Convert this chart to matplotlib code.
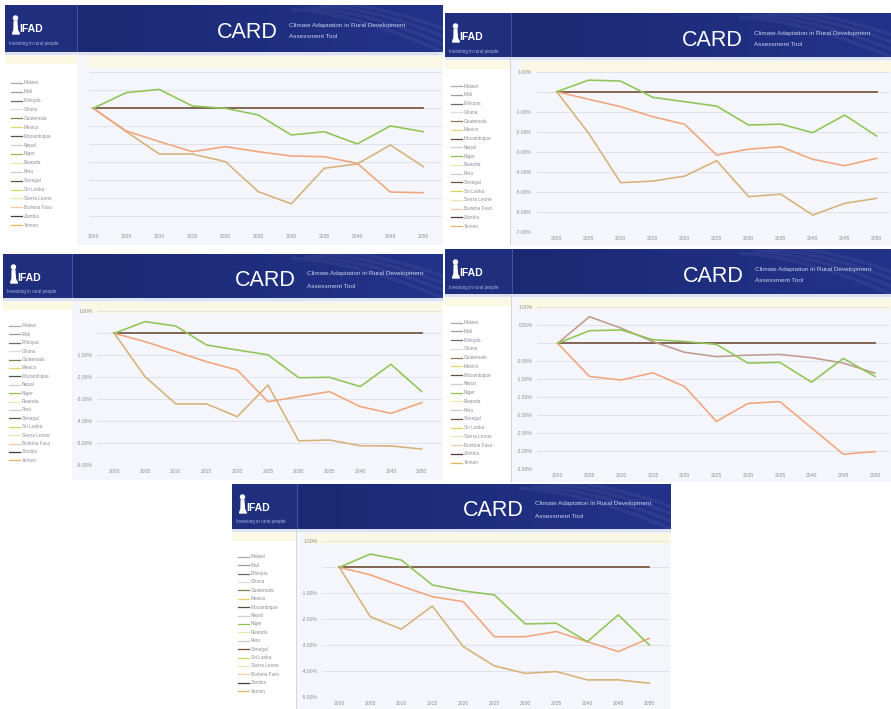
import matplotlib
matplotlib.use("Agg")
import matplotlib.pyplot as plt
from matplotlib.ticker import MultipleLocator, FuncFormatter
from matplotlib.patches import Rectangle, Circle, Polygon
import numpy as np

plt.rcParams['font.family'] = ['Liberation Sans', 'DejaVu Sans']

W, H = 891, 709

# ---------------------------------------------------------------- data
years = ['2000', '2005', '2010', '2015', '2020', '2025',
         '2030', '2035', '2040', '2045', '2050']

countries = ['Malawi', 'Mali', 'Ethiopia', 'Ghana', 'Guatemala', 'Mexico',
             'Mozambique', 'Nepal', 'Niger', 'Rwanda', 'Peru', 'Senegal',
             'Sri Lanka', 'Sierra Leone', 'Burkina Faso', 'Zambia', 'Yemen']
country_colors = ['#a9a9a9', '#9b9b9b', '#6f6a64', '#dcdcdc', '#8d7a4e',
                  '#e6d36a', '#5e4b3a', '#cfcfcf', '#8cc152', '#ece7a8',
                  '#c9c9d6', '#6b4f3a', '#d9d35a', '#efe3b0', '#f2c9a8',
                  '#4d3b30', '#e3b35c']

baseline = [0, 0, 0, 0, 0, 0, 0, 0, 0, 0, 0]

p1_green = [0, 0.87, 1.05, 0.13, 0, -0.37, -1.48, -1.30, -1.98, -0.98, -1.30]
p1_orange = [0, -1.26, -1.85, -2.41, -2.13, -2.41, -2.65, -2.69, -3.06, -4.65, -4.69]
p1_tan = [0, -1.30, -2.54, -2.54, -2.96, -4.63, -5.31, -3.33, -3.09, -2.04, -3.24]

p2_green = [0, 0.58, 0.53, -0.28, -0.50, -0.72, -1.67, -1.62, -2.05, -1.17, -2.22]
p2_orange = [0, -0.38, -0.75, -1.25, -1.63, -3.17, -2.87, -2.75, -3.38, -3.70, -3.33]
p2_tan = [0, -2.08, -4.55, -4.47, -4.22, -3.45, -5.25, -5.12, -6.17, -5.58, -5.33]

p3_green = [0, 0.53, 0.33, -0.53, -0.76, -0.98, -2.02, -2.00, -2.42, -1.41, -2.65]
p3_orange = [0, -0.38, -0.83, -1.29, -1.67, -3.11, -2.88, -2.65, -3.33, -3.64, -3.15]
p3_tan = [0, -1.97, -3.21, -3.21, -3.79, -2.35, -4.89, -4.85, -5.11, -5.12, -5.26]

p4_green = [0, 0.35, 0.37, 0.10, 0.05, -0.03, -0.55, -0.53, -1.08, -0.42, -0.92]
p4_mauve = [0, 0.74, 0.42, 0.05, -0.25, -0.37, -0.33, -0.31, -0.40, -0.55, -0.83]
p4_orange = [0, -0.92, -1.02, -0.82, -1.20, -2.17, -1.67, -1.62, -2.35, -3.08, -3.01]

p5_green = [0, 0.51, 0.28, -0.68, -0.91, -1.06, -2.18, -2.15, -2.86, -1.83, -2.99]
p5_orange = [0, -0.29, -0.72, -1.13, -1.32, -2.67, -2.67, -2.47, -2.86, -3.24, -2.73]
p5_tan = [0, -1.90, -2.38, -1.49, -3.05, -3.79, -4.08, -4.01, -4.33, -4.33, -4.46]

# ---------------------------------------------------------------- style
BROWN = '#7b5b48'
GREEN = '#8fc457'
SALMON = '#f0a57c'
TAN = '#d6b179'
MAUVE = '#c09a8c'
GREY_TXT = '#8c8f98'

panels = [
    dict(box=(5, 5, 443, 245), hdr=52, div=77, p0=93.3, p1=423.3,
         base=108.3, unit=18, step=1.0, bottom=230, ylabels=False,
         card=217, leg0=30.7, legstep=8.9,
         series=[(baseline, BROWN), (p1_tan, TAN), (p1_orange, SALMON),
                 (p1_green, GREEN)]),
    dict(box=(445, 13, 891, 246), hdr=57, div=510.7, p0=556.7, p1=876.7,
         base=91.7, unit=20, step=1.0, bottom=231.7, ylabels=True,
         card=682, leg0=29, legstep=8.75,
         series=[(baseline, BROWN), (p2_tan, TAN), (p2_orange, SALMON),
                 (p2_green, GREEN)]),
    dict(box=(3, 254, 443, 480), hdr=298, div=72, p0=114.3, p1=421.7,
         base=333.3, unit=22, step=1.0, bottom=465.3, ylabels=True,
         card=235, leg0=28, legstep=8.4,
         series=[(baseline, BROWN), (p3_tan, TAN), (p3_orange, SALMON),
                 (p3_green, GREEN)]),
    dict(box=(445, 249, 891, 482), hdr=294, div=511.7, p0=557.7, p1=875,
         base=343.3, unit=18, step=0.5, bottom=469.3, ylabels=True,
         card=683, leg0=28.7, legstep=8.75,
         series=[(baseline, BROWN), (p4_orange, SALMON), (p4_mauve, MAUVE),
                 (p4_green, GREEN)]),
    dict(box=(232, 484, 671, 709), hdr=529, div=296.7, p0=339.3, p1=649.3,
         base=567.3, unit=26, step=1.0, bottom=697.3, ylabels=True,
         card=463, leg0=27.7, legstep=8.4,
         series=[(baseline, BROWN), (p5_tan, TAN), (p5_orange, SALMON),
                 (p5_green, GREEN)]),
]

fig = plt.figure(figsize=(W / 100, H / 100), dpi=100)
fig.patch.set_facecolor('white')


def px_axes(x0, y0, x1, y1, **kw):
    return fig.add_axes([x0 / W, 1 - y1 / H, (x1 - x0) / W, (y1 - y0) / H], **kw)


def bare(ax):
    ax.set_xticks([])
    ax.set_yticks([])
    for s in ax.spines.values():
        s.set_visible(False)


def draw_header(p):
    x0, y0, x1, y1 = p['box']
    hdr, div = p['hdr'], p['div']
    hax = px_axes(x0, y0, x1, hdr)
    bare(hax)
    hax.set_xlim(x0, x1)
    hax.set_ylim(hdr, y0)
    grad = np.linspace(0, 1, 256)[None, :]
    cmap = matplotlib.colors.LinearSegmentedColormap.from_list(
        'hdr', ['#1a276f', '#1e2d7c', '#23338a'])
    hax.imshow(grad, extent=(x0, x1, hdr, y0), aspect='auto', cmap=cmap,
               zorder=0)
    # faint swoosh in the upper right corner
    t = np.linspace(0, 1, 50)
    for k in range(4):
        xs = x1 - 150 + k * 14 + 150 * t
        ys = y0 + (hdr - y0) * (0.1 + 0.9 * t ** 1.6) - k * 2
        hax.plot(xs, ys, color='white', alpha=0.05, lw=2.5, zorder=1)
    # logo block
    hax.add_patch(Rectangle((x0, y0), div - x0, hdr - y0, color='#1f2e7d',
                            zorder=1))
    hax.plot([div, div], [y0, hdr], color='#4b5c9f', lw=0.6, zorder=2)
    hax.add_patch(Circle((x0 + 10.5, y0 + 13), 2.0, color='white', zorder=3))
    hax.add_patch(Polygon([(x0 + 9.2, y0 + 16), (x0 + 11.8, y0 + 16),
                           (x0 + 12.4, y0 + 25), (x0 + 14.5, y0 + 29),
                           (x0 + 7.5, y0 + 29), (x0 + 9.0, y0 + 25)],
                          closed=True, color='white', zorder=3))
    hax.text(x0 + 14, y0 + 24, 'IFAD', color='white', fontsize=7.5,
             fontweight='bold', ha='left', va='center', zorder=4)
    hax.text(x0 + 4, y0 + 38, 'Investing in rural people', color='#a7b5e2',
             fontsize=3.3, ha='left', va='center', zorder=4)
    # tool title
    cx = p['card']
    hax.text(cx, y0 + 27, 'CARD', color='white', fontsize=15.5,
             ha='left', va='center', zorder=4, clip_on=True)
    hax.text(cx + 72, y0 + 20, 'Climate Adaptation in Rural Development',
             color='#c9d1ee', fontsize=4.6, ha='left', va='center', zorder=4,
             clip_on=True)
    hax.text(cx + 72, y0 + 32, 'Assessment Tool', color='#c9d1ee',
             fontsize=4.6, ha='left', va='center', zorder=4, clip_on=True)


def draw_sidebar(p):
    x0, y0, x1, y1 = p['box']
    hdr, div = p['hdr'], p['div']
    sax = px_axes(x0, hdr, div, y1)
    bare(sax)
    sax.set_facecolor('white')
    sax.set_xlim(x0, div)
    sax.set_ylim(y1, hdr)
    sax.add_patch(Rectangle((x0, hdr), div - x0, 2, color='#dde2f0'))
    sax.add_patch(Rectangle((x0, hdr + 4), div - x0, 7, color='#fbf9e4'))
    for i, (name, col) in enumerate(zip(countries, country_colors)):
        yy = hdr + p['leg0'] + i * p['legstep']
        sax.plot([x0 + 6, x0 + 17], [yy, yy], color=col, lw=0.9)
        sax.text(x0 + 19, yy, name, color=GREY_TXT, fontsize=3.4,
                 ha='left', va='center')
    sax.plot([div - 0.5, div - 0.5], [hdr, y1], color='#c9cdd8', lw=0.6)


def draw_chart(p):
    x0, y0, x1, y1 = p['box']
    hdr, div = p['hdr'], p['div']
    bg = px_axes(div, hdr, x1, y1)
    bare(bg)
    bg.set_facecolor('#f5f6fb')
    bg.set_xlim(div, x1)
    bg.set_ylim(y1, hdr)
    bg.add_patch(Rectangle((div, hdr), x1 - div, 2, color='#dde2f0'))
    bg.add_patch(Rectangle((div + 10, hdr + 5), x1 - div - 10, 9,
                           color='#fbf9e2', alpha=0.9))

    left = div + (25 if p['ylabels'] else 12)
    right = x1 - 2
    bottom = p['bottom']
    ax = px_axes(left, hdr, right, bottom)
    ax.set_facecolor('none')
    n = len(years)
    s = (p['p1'] - p['p0']) / (n - 1)
    ax.set_xlim((left - p['p0']) / s, (n - 1) + (right - p['p1']) / s)
    g = p['step']
    ax.set_ylim((p['base'] - bottom) / p['unit'] * g,
                (p['base'] - hdr) / p['unit'] * g)
    ax.yaxis.set_major_locator(MultipleLocator(g))
    ax.grid(axis='y', color='#dcdfe9', lw=0.6, zorder=0)
    ax.set_axisbelow(True)
    for sp in ax.spines.values():
        sp.set_visible(False)
    ax.set_xticks(range(n))
    ax.set_xticklabels(years)
    ax.tick_params(axis='both', length=0, labelsize=3.6, labelcolor=GREY_TXT,
                   pad=3)
    if p['ylabels']:
        ax.yaxis.set_major_formatter(
            FuncFormatter(lambda v, _: '' if abs(v) < 1e-9 else f'{v:.2f}%'))
    else:
        ax.set_yticklabels([])
    xs = np.arange(n)
    for k, (vals, col) in enumerate(p['series']):
        ax.plot(xs, vals, color=col, lw=1.15 if k else 1.3, zorder=3 + k,
                solid_joinstyle='round')


for p in panels:
    draw_sidebar(p)
    draw_chart(p)
    draw_header(p)

fig.savefig('out.png', dpi=100, facecolor='white')
